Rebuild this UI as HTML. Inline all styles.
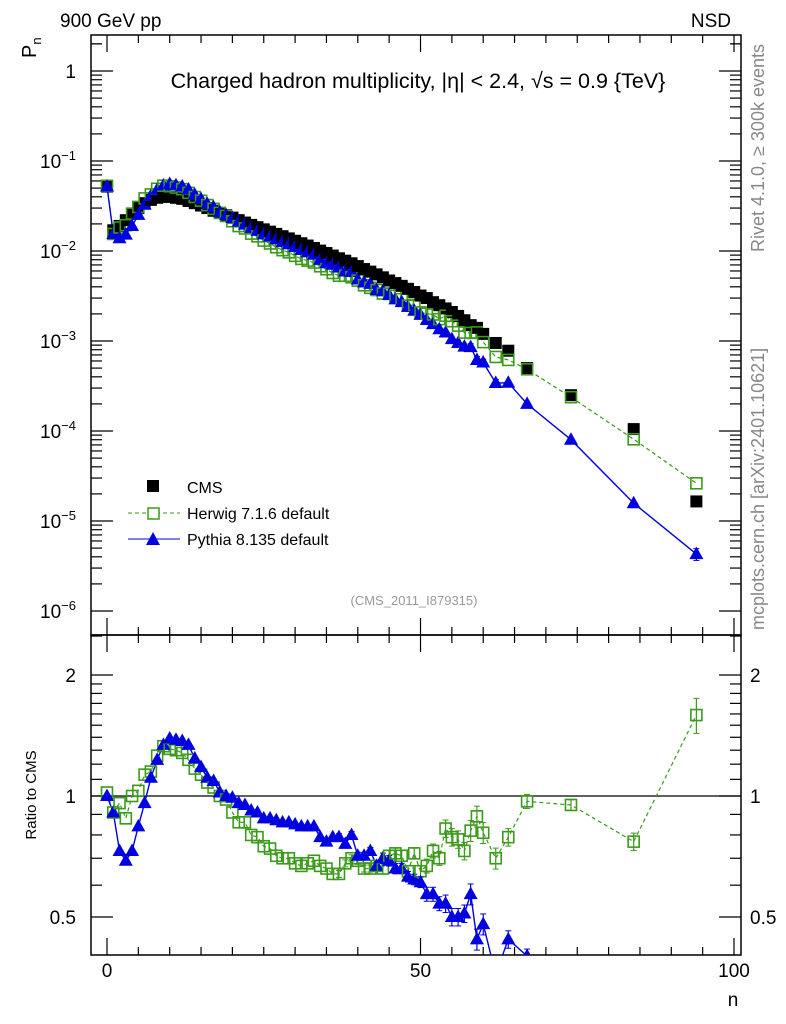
<!DOCTYPE html>
<html><head><meta charset="utf-8"><style>
html,body{margin:0;padding:0;background:#fff;width:786px;height:1024px;overflow:hidden;}
svg{display:block;font-family:"Liberation Sans",sans-serif;}
</style></head><body>
<svg id="chart" width="786" height="1024" viewBox="0 0 786 1024">
<g id="main"></g>
<g id="ratio"></g>
<text x="60" y="27" font-size="19">900 GeV pp</text>
<text x="731" y="27" font-size="19" text-anchor="end">NSD</text>
<text transform="translate(36,58) rotate(-90)" font-size="20">P<tspan font-size="13" dy="5">n</tspan></text>
<text x="418" y="88" font-size="21.5" text-anchor="middle">Charged hadron multiplicity, |η| &lt; 2.4, √s = 0.9 {TeV}</text>
<text transform="translate(764,252) rotate(-90)" font-size="18" fill="#888">Rivet 4.1.0, ≥ 300k events</text>
<text transform="translate(764,630) rotate(-90)" font-size="18" fill="#888">mcplots.cern.ch [arXiv:2401.10621]</text>
<text x="414" y="605" font-size="13" fill="#999" text-anchor="middle">(CMS_2011_I879315)</text>
<text transform="translate(36,795) rotate(-90)" font-size="15" text-anchor="middle">Ratio to CMS</text>
<text x="733" y="1006" font-size="19" text-anchor="middle">n</text>
<g>
<rect x="147" y="480" width="12" height="12" fill="#000"/>
<text x="187" y="493" font-size="16">CMS</text>
<line x1="128" y1="513" x2="180" y2="513" stroke="#3a9a1a" stroke-dasharray="4,3"/>
<rect x="148" y="508" width="11" height="11" fill="#fff" stroke="#3a9a1a" stroke-width="1.5"/>
<text x="187" y="519" font-size="16">Herwig 7.1.6 default</text>
<line x1="128" y1="539" x2="180" y2="539" stroke="#0000e0"/>
<path d="M153,532 L160,545 L146,545Z" fill="#0000e0"/>
<text x="187" y="545" font-size="16">Pythia 8.135 default</text>
</g>
</svg>
<script>
const nVals=[0,1,2,3,4,5,6,7,8,9,10,11,12,13,14,15,16,17,18,19,20,21,22,23,24,25,26,27,28,29,30,31,32,33,34,35,36,37,38,39,40,41,42,43,44,45,46,47,48,49,50,51,52,53,54,55,56,57,58,59,60,62,64,67,74,84,94];
const cmsVals=[0.052,0.017,0.019,0.022,0.026,0.030,0.034,0.037,0.039,0.040,0.040,0.039,0.038,0.036,0.034,0.032,0.030,0.028,0.0265,0.025,0.0235,0.022,0.0207,0.0195,0.0184,0.0174,0.0164,0.0155,0.0146,0.0138,0.013,0.0122,0.0115,0.0108,0.0101,0.0095,0.0089,0.0083,0.0078,0.0073,0.0068,0.0063,0.0059,0.0055,0.0051,0.0047,0.0044,0.0041,0.0038,0.0035,0.0032,0.0030,0.0027,0.0025,0.0023,0.0021,0.0019,0.0017,0.0015,0.0014,0.0012,0.00095,0.00078,0.0005,0.00025,0.000105,0.0000165];
const herwigRatio=[1.02,0.91,0.96,0.88,1.0,1.03,1.13,1.15,1.26,1.33,1.31,1.30,1.28,1.23,1.17,1.13,1.08,1.05,1.0,0.98,0.91,0.86,0.86,0.80,0.79,0.75,0.74,0.71,0.70,0.70,0.68,0.67,0.68,0.69,0.67,0.66,0.64,0.64,0.68,0.70,0.69,0.66,0.66,0.67,0.66,0.71,0.72,0.71,0.65,0.72,0.65,0.67,0.73,0.70,0.83,0.79,0.78,0.73,0.82,0.89,0.81,0.70,0.79,0.97,0.95,0.77,1.59];
const pythiaRatio=[1.0,0.91,0.73,0.69,0.73,0.84,0.96,1.11,1.23,1.34,1.39,1.38,1.37,1.34,1.24,1.18,1.11,1.09,1.02,1.0,0.99,0.96,0.95,0.92,0.91,0.88,0.88,0.87,0.86,0.86,0.85,0.84,0.84,0.84,0.79,0.77,0.79,0.79,0.76,0.80,0.71,0.71,0.73,0.67,0.70,0.69,0.66,0.66,0.63,0.62,0.61,0.57,0.57,0.54,0.54,0.50,0.50,0.51,0.57,0.44,0.48,0.36,0.44,0.40,0.32,0.15,0.26];
const relErr=[0.01,0.01,0.01,0.01,0.01,0.01,0.01,0.01,0.01,0.01,0.01,0.01,0.01,0.01,0.01,0.01,0.01,0.01,0.01,0.01,0.01,0.01,0.01,0.01,0.01,0.01,0.01,0.01,0.01,0.01,0.01,0.01,0.01,0.01,0.01,0.01,0.01,0.02,0.02,0.02,0.02,0.02,0.02,0.02,0.03,0.03,0.03,0.03,0.03,0.03,0.03,0.04,0.04,0.04,0.05,0.05,0.05,0.05,0.06,0.06,0.06,0.06,0.05,0.04,0.03,0.05,0.1];
const yMainTicks=[0,-1,-2,-3,-4,-5,-6];
const ratioTicks=[0.5,1,2];
const xTicks=[0,50,100];

const NS='http://www.w3.org/2000/svg';
const L=91,R=741,MT=35,MB=635,RB=955;
const X=n=>107+n*6.27;
const YM=v=>71-90*Math.log10(v);
const YR=r=>796-121*Math.log2(r);
function mk(p,tag,a){const e=document.createElementNS(NS,tag);for(const k in a)e.setAttribute(k,a[k]);p.appendChild(e);return e;}
const main=document.getElementById('main'),ratio=document.getElementById('ratio');

const defs=mk(document.getElementById('chart'),'defs',{});
const c1=mk(defs,'clipPath',{id:'cm'});mk(c1,'rect',{x:L,y:MT,width:R-L,height:MB-MT});
const c2=mk(defs,'clipPath',{id:'cr'});mk(c2,'rect',{x:L,y:MB,width:R-L,height:RB-MB});

let f=mk(main,'rect',{x:L,y:MT,width:R-L,height:MB-MT,fill:'none',stroke:'#000','stroke-width':1.5});


f=mk(ratio,'rect',{x:L,y:MB,width:R-L,height:RB-MB,fill:'none',stroke:'#000','stroke-width':1.5});



for(let n=0;n<=100;n+=5){
  const x=X(n),big=n%50===0,len=big?17:8;
  for(const [y0,d] of [[MT,1],[MB,-1],[MB,1],[RB,-1]]){
    const t=mk(main,'line',{x1:x,x2:x,y1:y0,y2:y0+d*len,stroke:'#000','stroke-width':1.2});
    
    
  }
}
xTicks.forEach(n=>{
  const t=mk(ratio,'text',{x:X(n),y:977,'font-size':19,'text-anchor':'middle'});
  t.textContent=n;
  
  
});

yMainTicks.forEach(p=>{
  for(let m=1;m<=9;m++){
    const v=Math.pow(10,p)*m,y=YM(v);
    if(y<MT||y>MB)continue;
    const len=m===1?22:11;
    for(const [x0,d] of [[L,1],[R,-1]]){
      const t=mk(main,'line',{x1:x0,x2:x0+d*len,y1:y,y2:y,stroke:'#000','stroke-width':1.2});
      
      
    }
  }
  const t=mk(main,'text',{x:76,y:YM(Math.pow(10,p))+7,'font-size':19,'text-anchor':'end'});
  if(p===0)t.textContent='1';
  else{t.textContent='10';const s=mk(t,'tspan',{dy:-8,'font-size':13});s.textContent='−'+(-p);}
  
  
});
for(let m=2;m<=3;m++){const y=YM(m);if(y>=MT){for(const [x0,d] of [[L,1],[R,-1]])mk(main,'line',{x1:x0,x2:x0+d*11,y1:y,y2:y,stroke:'#000','stroke-width':1.2});}}

[0.4,0.5,0.6,0.7,0.8,0.9,1,1.1,1.2,1.3,1.4,1.5,1.6,1.7,1.8,1.9,2,2.5].forEach(r=>{
  const y=YR(r);if(y<MB||y>RB)return;
  const big=ratioTicks.includes(r),len=big?22:11;
  for(const [x0,d] of [[L,1],[R,-1]]){
    const t=mk(ratio,'line',{x1:x0,x2:x0+d*len,y1:y,y2:y,stroke:'#000','stroke-width':1.2});
    
    
  }
});
ratioTicks.forEach(r=>{
  for(const [x,a] of [[76,'end'],[750,'start']]){
    const t=mk(ratio,'text',{x:x,y:YR(r)+7,'font-size':19,'text-anchor':a});
    t.textContent=r;
    
    
  }
});
let ref=mk(ratio,'line',{x1:L,x2:R,y1:YR(1),y2:YR(1),stroke:'#000','stroke-width':1.2});



const gm=mk(main,'g',{'clip-path':'url(#cm)'});
const gr=mk(ratio,'g',{'clip-path':'url(#cr)'});
const GREEN='#3a9a1a',BLUE='#0000e0';
function tri(g,x,y,c,name){const p=mk(g,'path',{d:`M${x},${y-7.5}L${x+7},${y+5}L${x-7},${y+5}Z`,fill:c});}
function sq(g,x,y,name){const p=mk(g,'rect',{x:x-5.5,y:y-5.5,width:11,height:11,fill:'none',stroke:GREEN,'stroke-width':1.6});}
function err(g,x,y1,y2,c){if(Math.abs(y1-y2)<6)return;mk(g,'line',{x1:x,x2:x,y1:y1,y2:y2,stroke:c,'stroke-width':1.2});mk(g,'line',{x1:x-3,x2:x+3,y1:y1,y2:y1,stroke:c});mk(g,'line',{x1:x-3,x2:x+3,y1:y2,y2:y2,stroke:c});}

const hwMain=nVals.map((n,i)=>[X(n),YM(cmsVals[i]*herwigRatio[i])]);
const pyMain=nVals.map((n,i)=>[X(n),YM(cmsVals[i]*pythiaRatio[i])]);
const hwR=nVals.map((n,i)=>[X(n),YR(herwigRatio[i])]);
const pyR=nVals.map((n,i)=>[X(n),YR(pythiaRatio[i])]);
const pth=pts=>'M'+pts.map(p=>p[0].toFixed(1)+','+p[1].toFixed(1)).join('L');
let e;
e=mk(gm,'path',{d:pth(hwMain),fill:'none',stroke:GREEN,'stroke-dasharray':'4,3','stroke-width':1.2});


e=mk(gm,'path',{d:pth(pyMain),fill:'none',stroke:BLUE,'stroke-width':1.4});


e=mk(gr,'path',{d:pth(hwR),fill:'none',stroke:GREEN,'stroke-dasharray':'4,3','stroke-width':1.2});


e=mk(gr,'path',{d:pth(pyR),fill:'none',stroke:BLUE,'stroke-width':1.4});



nVals.forEach((n,i)=>{
  const x=X(n),er=relErr[i];
  const c=mk(gm,'rect',{x:x-6,y:YM(cmsVals[i])-6,width:12,height:12,fill:'#000'});
  
  
  const hv=cmsVals[i]*herwigRatio[i],pv=cmsVals[i]*pythiaRatio[i];
  sq(gm,x,YM(hv),'herwig-point');
  err(gm,x,YM(pv*(1+er*1.5)),YM(pv*(1-er*1.5)),BLUE);
  tri(gm,x,YM(pv),BLUE,'pythia-point');
  err(gr,x,YR(herwigRatio[i]*(1+er)),YR(herwigRatio[i]*(1-er)),GREEN);
  sq(gr,x,YR(herwigRatio[i]),'herwig-ratio-point');
  err(gr,x,YR(pythiaRatio[i]*(1+er)),YR(pythiaRatio[i]*(1-er)),BLUE);
  tri(gr,x,YR(pythiaRatio[i]),BLUE,'pythia-ratio-point');
});
</script>
</body></html>
